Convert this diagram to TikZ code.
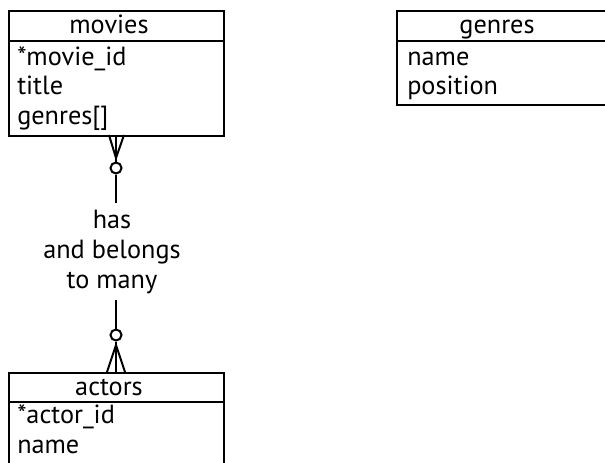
\documentclass[tikz,border=0pt]{standalone}
\usepackage{fontspec}
\setmainfont{PT Sans}
\begin{document}
\begin{tikzpicture}[x=0.75pt,y=-0.75pt,
  ent/.style={draw,line width=1.5pt,minimum width=161.25pt,anchor=north west,inner sep=0pt},
  sep/.style={line width=2.2pt},
  lbl/.style={font=\fontsize{19.7}{22.5}\selectfont,inner sep=0pt},
  fld/.style={lbl,anchor=base west},
  hdr/.style={lbl,anchor=base},
  conn/.style={line width=1.5pt},
  crow/.style={line width=1.5pt}]
\useasboundingbox (0,0) rectangle (605,462);
% boxes
\node[ent,minimum height=93.75pt] (movies) at (8,10) {};
\node[ent,minimum height=70.5pt] (genres) at (396,10) {};
\node[ent,minimum height=90pt] (actors) at (8,372) {};
% header separators
\draw[sep] (8,41) -- (224,41);
\draw[sep] (396,41) -- (612,41);
\draw[sep] (8,402) -- (224,402);
% texts
\node[hdr] (tm) at (109,33) {movies};
\node[fld] (m1) at (17,65) {*movie\_id};
\node[fld] (m2) at (17,94.5) {title};
\node[fld] (m3) at (17,124) {genres[]};
\node[hdr] (tg) at (497,33) {genres};
\node[fld] (g1) at (407,65) {name};
\node[fld] (g2) at (407,94.5) {position};
\node[hdr] (ta) at (109,395) {actors};
\node[fld] (a1) at (17,423.5) {*actor\_id};
\node[fld] (a2) at (17,453) {name};
% relationship label
\node[lbl,align=center,anchor=base] (rel) at (112,288) {has\\and belongs\\to many};
% connector top
\coordinate (t0) at (116,135);
\coordinate (tc) at (116,158);
\node[draw,circle,line width=1.5pt,minimum size=8.25pt,inner sep=0pt] (oc1) at (116,168) {};
\coordinate (t1) at (116,203);
\draw[crow] (109,135) -- (tc) -- (124,135);
\draw[crow] (t0) -- (tc) -- (oc1.north);
\draw[conn] (oc1.south) -- (t1);
% connector bottom
\coordinate (b1) at (116,300);
\node[draw,circle,line width=1.5pt,minimum size=8.25pt,inner sep=0pt] (oc2) at (116,335) {};
\coordinate (bc) at (116,345);
\coordinate (b0) at (116,372);
\draw[conn] (b1) -- (oc2.north);
\draw[crow] (oc2.south) -- (bc) -- (b0);
\draw[crow] (107,372) -- (bc) -- (125,372);
\end{tikzpicture}
\end{document}
